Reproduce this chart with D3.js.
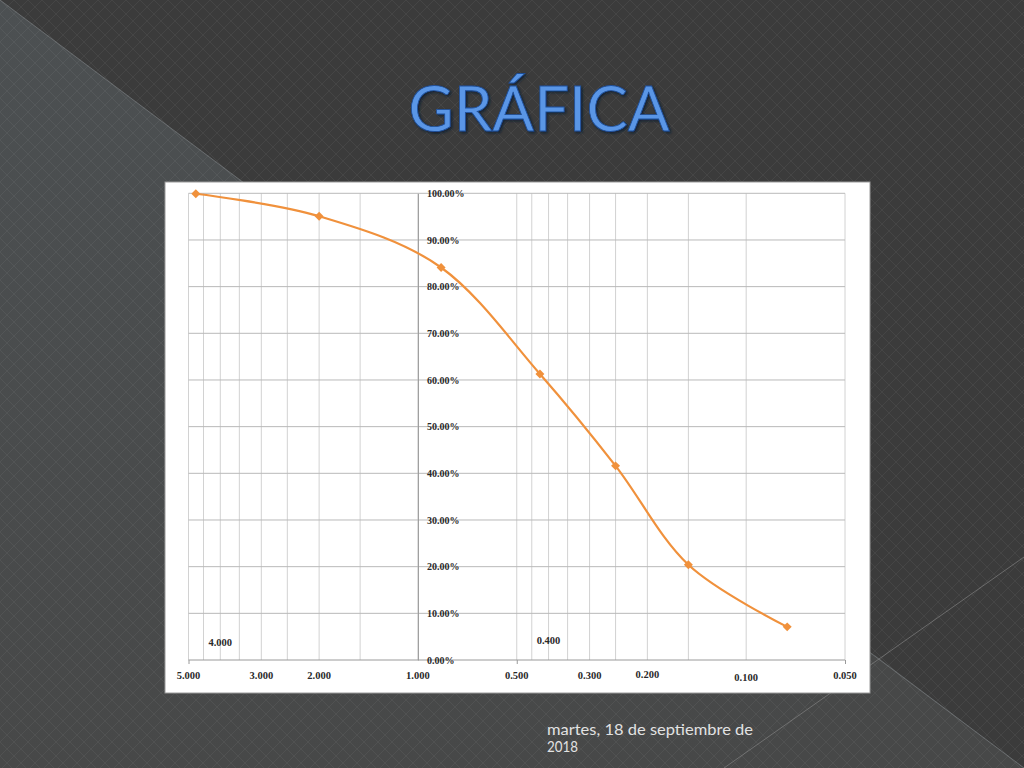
<!DOCTYPE html>
<html><head><meta charset="utf-8">
<script src="https://cdn.jsdelivr.net/npm/d3@7"></script>
<style>html,body{margin:0;padding:0;background:#3b3b3b;overflow:hidden}</style>
</head><body>
<svg id="c" width="1024" height="768"></svg>
<script>
// ---- data ----
const sieveSizes = [4.75, 2.00, 0.85, 0.425, 0.25, 0.15, 0.075];
const percentPassing = [0.999, 0.951, 0.841, 0.613, 0.416, 0.204, 0.071];
const gridX = [5, 4.5, 4, 3.5, 3, 2.5, 2, 1.5, 1, 0.5, 0.45, 0.4, 0.35, 0.3, 0.25, 0.2, 0.15, 0.1, 0.05];
const majorTicksX = [5, 0.5, 0.05];
const xLabels = [5, 3, 2, 1, 0.5, 0.3, 0.2, 0.1, 0.05];
const xInnerLabels = [4, 0.4];
const yTicks = [0, 0.1, 0.2, 0.3, 0.4, 0.5, 0.6, 0.7, 0.8, 0.9, 1.0];
const titleText = "GRÁFICA";
const dateLines = ["martes, 18 de septiembre de", "2018"];

const svg = d3.select("#c");
const W = 1024, H = 768;

// ---- background ----
const defs = svg.append("defs");
const pat = defs.append("pattern").attr("id","diam").attr("patternUnits","userSpaceOnUse")
  .attr("width",14).attr("height",14);
pat.append("path").attr("d","M0,0 L14,14 M14,0 L0,14").attr("stroke","#ffffff").attr("stroke-opacity",0.05).attr("stroke-width",1);
const g1 = defs.append("linearGradient").attr("id","lgr").attr("x1",0).attr("y1",0).attr("x2",0).attr("y2",1);
g1.append("stop").attr("offset","0%").attr("stop-color","#4c5052");
g1.append("stop").attr("offset","100%").attr("stop-color","#474848");

svg.append("rect").attr("width",W).attr("height",H).attr("fill","#3b3b3b");
svg.append("path").attr("d",`M0,0 L${W},${H} L0,${H} Z`).attr("fill","url(#lgr)");
svg.append("path").attr("d",`M724,768 L875,655 L1024,768 Z`).attr("fill","#474848");
svg.append("rect").attr("width",W).attr("height",H).attr("fill","url(#diam)");
svg.append("line").attr("x1",0).attr("y1",0).attr("x2",W).attr("y2",H).attr("stroke","#7a7f82").attr("stroke-width",1).attr("stroke-opacity",0.7);
svg.append("line").attr("x1",724).attr("y1",768).attr("x2",1024).attr("y2",557).attr("stroke","#8a8a8a").attr("stroke-width",1).attr("stroke-opacity",0.6);

// ---- title ----
const shadow = defs.append("filter").attr("id","sh").attr("x","-10%").attr("y","-30%").attr("width","120%").attr("height","160%");
shadow.append("feDropShadow").attr("dx",1.5).attr("dy",1.5).attr("stdDeviation",1.2).attr("flood-color","#0b1a33").attr("flood-opacity",0.9);
svg.append("text").attr("x",539).attr("y",130.5).attr("text-anchor","middle")
  .attr("font-family","Lato, 'Open Sans', sans-serif").attr("font-size",61).attr("font-weight",400)
  .attr("fill","#5a96e6").attr("stroke","#1f4f9a").attr("stroke-width",0.8)
  .attr("textLength",261).attr("lengthAdjust","spacingAndGlyphs")
  .attr("filter","url(#sh)").text(titleText);

// ---- chart box ----
svg.append("rect").attr("x",165).attr("y",182).attr("width",705).attr("height",511)
  .attr("fill","#ffffff").attr("stroke","#9a9a9a").attr("stroke-width",1);

const x = d3.scaleLog().domain([5, 0.05]).range([188.5, 845]);
const y = d3.scaleLinear().domain([0, 1]).range([660, 193.3]);

const plot = svg.append("g");
// vertical grid
plot.selectAll("line.vg").data(gridX).join("line").attr("class","vg")
  .attr("x1",d=>x(d)).attr("x2",d=>x(d)).attr("y1",y(1)).attr("y2",y(0))
  .attr("stroke","#d2d2d2").attr("stroke-width",1);
// horizontal grid
plot.selectAll("line.hg").data(yTicks.filter(d=>d>0)).join("line").attr("class","hg")
  .attr("x1",x(5)).attr("x2",x(0.05)).attr("y1",d=>y(d)).attr("y2",d=>y(d))
  .attr("stroke","#b9b9b9").attr("stroke-width",1);

// x axis (at 0%)
const xAxis = d3.axisBottom(x).tickValues(majorTicksX).tickSize(4).tickFormat("");
const xg = plot.append("g").attr("transform",`translate(0,${y(0)})`).call(xAxis);
xg.select(".domain").attr("stroke","#9a9a9a").attr("d",`M${x(5)},0H${x(0.05)}`);
xg.selectAll(".tick line").attr("stroke","#9a9a9a");

// y axis at x=1
const yAxis = d3.axisRight(y).tickValues(yTicks).tickSize(0).tickPadding(9)
  .tickFormat(d=>(d*100).toFixed(2)+"%");
const yg = plot.append("g").attr("transform",`translate(${x(1)},0)`).call(yAxis);
yg.select(".domain").attr("stroke","#9a9a9a");
yg.selectAll(".tick text").attr("font-family","'Liberation Serif', 'DejaVu Serif', serif")
  .attr("font-size",10).attr("fill","#2a2a2a").attr("font-weight","bold");

// x labels
const xFmt = d3.format(".3f");
plot.selectAll("text.xl").data(xLabels).join("text").attr("class","xl")
  .attr("x",d=>x(d)).attr("y",d=> d===0.2 ? 677.5 : (d===0.1 ? 680.5 : 679))
  .attr("text-anchor","middle")
  .attr("font-family","'Liberation Serif', 'DejaVu Serif', serif").attr("font-size",10.5)
  .attr("font-weight","bold").attr("fill","#2a2a2a").text(d=>xFmt(d));
plot.selectAll("text.xi").data(xInnerLabels).join("text").attr("class","xi")
  .attr("x",d=>x(d)).attr("y",d=> d===4 ? 645.5 : 644)
  .attr("text-anchor","middle")
  .attr("font-family","'Liberation Serif', 'DejaVu Serif', serif").attr("font-size",10.5)
  .attr("font-weight","bold").attr("fill","#2a2a2a").text(d=>xFmt(d));

// series
const pts = sieveSizes.map((s,i)=>({s, p: percentPassing[i]}));
const line = d3.line().x(d=>x(d.s)).y(d=>y(d.p)).curve(d3.curveCatmullRom.alpha(0));
plot.append("path").datum(pts).attr("d",line).attr("fill","none")
  .attr("stroke","#f0913c").attr("stroke-width",2.2);
plot.selectAll("path.mk").data(pts).join("path").attr("class","mk")
  .attr("transform",d=>`translate(${x(d.s)},${y(d.p)}) rotate(45)`)
  .attr("d",d3.symbol().type(d3.symbolSquare).size(40))
  .attr("fill","#f0913c");

// ---- date ----
svg.append("g").selectAll("text").data(dateLines).join("text")
  .attr("x",547).attr("y",(d,i)=>735+i*17)
  .attr("font-family","Lato, 'Open Sans', sans-serif").attr("font-size",15)
  .attr("fill","#e2e2e2")
  .attr("textLength",(d,i)=> i===0 ? 206 : 31).attr("lengthAdjust","spacingAndGlyphs")
  .text(d=>d);
</script>
</body></html>
